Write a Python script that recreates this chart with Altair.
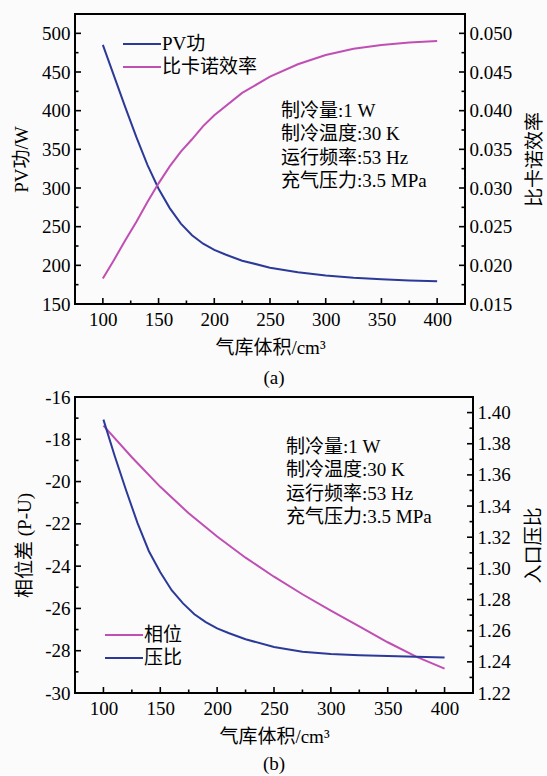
import altair as alt
import pandas as pd

FONT = "Liberation Serif, Noto Sans CJK SC"
BLUE = "#2b3a98"
PURPLE = "#c04fb3"
BG = "#fbfbfb"
FS = 19

# ---------------- panel (a) data ----------------
vol_a = [100, 110, 120, 130, 140, 150, 160, 170, 180, 190, 200, 210, 225, 250, 275, 300, 325, 350, 375, 400]
pv_work = [485, 445, 405, 366, 330, 299, 274, 254, 239, 228, 220, 214, 206, 197, 191, 187, 184, 182, 180.5, 179.5]
vol_a2 = [100, 110, 120, 130, 140, 150, 160, 170, 180, 190, 200, 225, 250, 275, 300, 325, 350, 375, 400]
carnot_eff = [0.0183, 0.0207, 0.0232, 0.0256, 0.0282, 0.0306, 0.0328, 0.0347, 0.0363, 0.0380, 0.0394,
              0.0423, 0.0444, 0.0460, 0.0472, 0.0480, 0.0485, 0.0488, 0.0490]

# ---------------- panel (b) data ----------------
vol_b = [100, 125, 150, 175, 200, 225, 250, 275, 300, 325, 350, 375, 400]
phase = [-17.35, -18.85, -20.25, -21.5, -22.6, -23.6, -24.5, -25.33, -26.1, -26.85, -27.6, -28.28, -28.85]
vol_b2 = [100, 110, 120, 130, 140, 150, 160, 170, 180, 190, 200, 210, 225, 250, 275, 300, 325, 350, 375, 400]
pressure_ratio = [1.3955, 1.372, 1.350, 1.329, 1.311, 1.2975, 1.286, 1.2775, 1.2705, 1.2655, 1.2615, 1.2585,
                  1.2545, 1.2495, 1.2465, 1.245, 1.2443, 1.2437, 1.2432, 1.2428]

# ---------------- ticks / labels ----------------
x_major = [100, 150, 200, 250, 300, 350, 400]
x_minor = [125, 175, 225, 275, 325, 375]
pv_major = [150, 200, 250, 300, 350, 400, 450, 500]
pv_minor = [175, 225, 275, 325, 375, 425, 475]
eff_major = [0.015, 0.020, 0.025, 0.030, 0.035, 0.040, 0.045, 0.050]
eff_minor = [0.0175, 0.0225, 0.0275, 0.0325, 0.0375, 0.0425, 0.0475]
ph_major = [-30, -28, -26, -24, -22, -20, -18, -16]
ph_minor = [-29, -27, -25, -23, -21, -19, -17]
pr_major = [1.22, 1.24, 1.26, 1.28, 1.30, 1.32, 1.34, 1.36, 1.38, 1.40]
pr_minor = [1.23, 1.25, 1.27, 1.29, 1.31, 1.33, 1.35, 1.37, 1.39]

notes = ["制冷量:1 W", "制冷温度:30 K", "运行频率:53 Hz", "充气压力:3.5 MPa"]
x_title = "气库体积/cm³"
captions = ["(a)", "(b)"]


def txt(s, x, y, align="left"):
    return alt.Chart(pd.DataFrame({"n": [s]})).mark_text(
        align=align, baseline="middle", font=FONT, fontSize=FS, color="black").encode(
        text="n:N", x=alt.value(x), y=alt.value(y))


def panel(w, h, extra_text,
          lx, ly, l_title, l_dom, l_major, l_minor, l_label, l_color, l_name,
          rx, ry, r_title, r_dom, r_major, r_minor, r_fmt, r_color, r_name,
          legend_order, leg_x, leg_y, note_x, note_y):
    xs = alt.Scale(domain=[75, 425], nice=False, zero=False)
    lys = alt.Scale(domain=l_dom, nice=False, zero=False)
    rys = alt.Scale(domain=r_dom, nice=False, zero=False)

    xax = alt.Axis(values=x_major, title=x_title, ticks=False, domain=False, grid=False,
                   format="d", labelPadding=6, titlePadding=9)
    lax = alt.Axis(values=l_major, title=l_title, orient="left", ticks=False, domain=False,
                   grid=False, labelExpr=l_label, labelPadding=5, titlePadding=10)
    rax = alt.Axis(values=r_major, title=r_title, orient="right", ticks=False, domain=False,
                   grid=False, format=r_fmt, labelPadding=4, titlePadding=14, titleAngle=270,
                   titleBaseline="top")

    left_line = alt.Chart(pd.DataFrame({"v": lx, "val": ly})).mark_line(
        color=l_color, strokeWidth=2).encode(
        x=alt.X("v:Q", scale=xs, axis=xax),
        y=alt.Y("val:Q", scale=lys, axis=lax))

    def yticks(vals, scale, ax, size, right):
        if right:
            xe = dict(x=alt.value(w), x2=alt.value(w - size))
        else:
            xe = dict(x=alt.value(0), x2=alt.value(size))
        return alt.Chart(pd.DataFrame({"val": vals})).mark_rule(
            color="black", strokeWidth=1.6).encode(
            y=alt.Y("val:Q", scale=scale, axis=ax), **xe)

    def xticks(vals, size):
        return alt.Chart(pd.DataFrame({"v": vals})).mark_rule(
            color="black", strokeWidth=1.6).encode(
            x=alt.X("v:Q", scale=xs, axis=xax), y=alt.value(h), y2=alt.value(h - size))

    layers_left = [left_line,
                   yticks(l_major, lys, lax, 6, False), yticks(l_minor, lys, lax, 3.5, False),
                   xticks(x_major, 6), xticks(x_minor, 3.5)]

    # legend
    colors = {l_name: l_color, r_name: r_color}
    for i, name in enumerate(legend_order):
        yy = leg_y + i * 23
        layers_left.append(alt.Chart(pd.DataFrame({"n": [name]})).mark_rule(
            color=colors[name], strokeWidth=2).encode(
            x=alt.value(leg_x), x2=alt.value(leg_x + 38), y=alt.value(yy)))
        layers_left.append(txt(name, leg_x + 39, yy))

    # annotation
    for i, line in enumerate(notes):
        layers_left.append(txt(line, note_x, note_y + i * 23.3))

    # captions
    for s, yy in extra_text:
        layers_left.append(txt(s, w / 2, yy, align="center"))

    right_line = alt.Chart(pd.DataFrame({"v": rx, "val": ry})).mark_line(
        color=r_color, strokeWidth=2).encode(
        x=alt.X("v:Q", scale=xs, axis=xax),
        y=alt.Y("val:Q", scale=rys, axis=rax))
    layers_right = [right_line,
                    yticks(r_major, rys, rax, 6, True), yticks(r_minor, rys, rax, 3.5, True)]

    return alt.layer(alt.layer(*layers_left), alt.layer(*layers_right)).resolve_scale(
        y="independent").properties(width=w, height=h)


top = panel(390, 290, [],
            vol_a, pv_work, "PV功/W", [150, 525], pv_major, pv_minor, "datum.value + ''", BLUE, "PV功",
            vol_a2, carnot_eff, "比卡诺效率", [0.015, 0.0525], eff_major, eff_minor, ".3f", PURPLE, "比卡诺效率",
            ["PV功", "比卡诺效率"], 48, 30, 206, 97)

bottom = panel(398, 296, [(captions[0], -19), (captions[1], 367)],
               vol_b, phase, "相位差 (P-U)", [-30, -16], ph_major, ph_minor, "datum.value + ''", PURPLE, "相位",
               vol_b2, pressure_ratio, "入口压比", [1.22, 1.41], pr_major, pr_minor, ".2f", BLUE, "压比",
               ["相位", "压比"], 30, 238, 211, 50)

chart = alt.vconcat(top, bottom, spacing=10).properties(
    background=BG,
    padding={"left": 11, "top": 13, "right": 0, "bottom": 0},
).configure_view(
    stroke="black", strokeWidth=2
).configure_axis(
    labelFont=FONT, labelFontSize=FS, labelColor="black",
    titleFont=FONT, titleFontSize=FS, titleFontWeight="normal", titleColor="black"
)

chart.save("out.html", embed_options={"renderer": "svg", "actions": False})
